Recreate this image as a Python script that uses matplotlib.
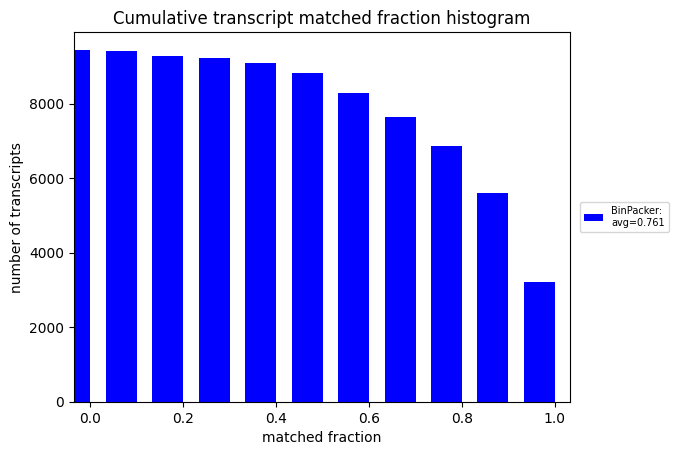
import numpy as np
import matplotlib
matplotlib.use("Agg")
import matplotlib.pyplot as plt

# matched-fraction thresholds and cumulative transcript counts
thresholds = [0.0, 0.1, 0.2, 0.3, 0.4, 0.5, 0.6, 0.7, 0.8, 0.9, 1.0]
counts = [9450, 9420, 9290, 9235, 9100, 8830, 8295, 7650, 6870, 5610, 3220]
label = "BinPacker:\navg=0.761"

fig = plt.figure(figsize=(6.81, 4.55), dpi=100)
ax = fig.add_axes([0.1087, 0.1165, 0.7287, 0.8125])

# bars end at each threshold
ax.bar(thresholds, counts, width=-0.0667, align='edge', color='blue', label=label)

ax.set_xlim(-0.035, 1.033)
ax.set_title("Cumulative transcript matched fraction histogram")
ax.set_xlabel("matched fraction")
ax.set_ylabel("number of transcripts")
ax.legend(loc='center left', bbox_to_anchor=(1.01, 0.5), fontsize=7)

fig.savefig("out.png")
